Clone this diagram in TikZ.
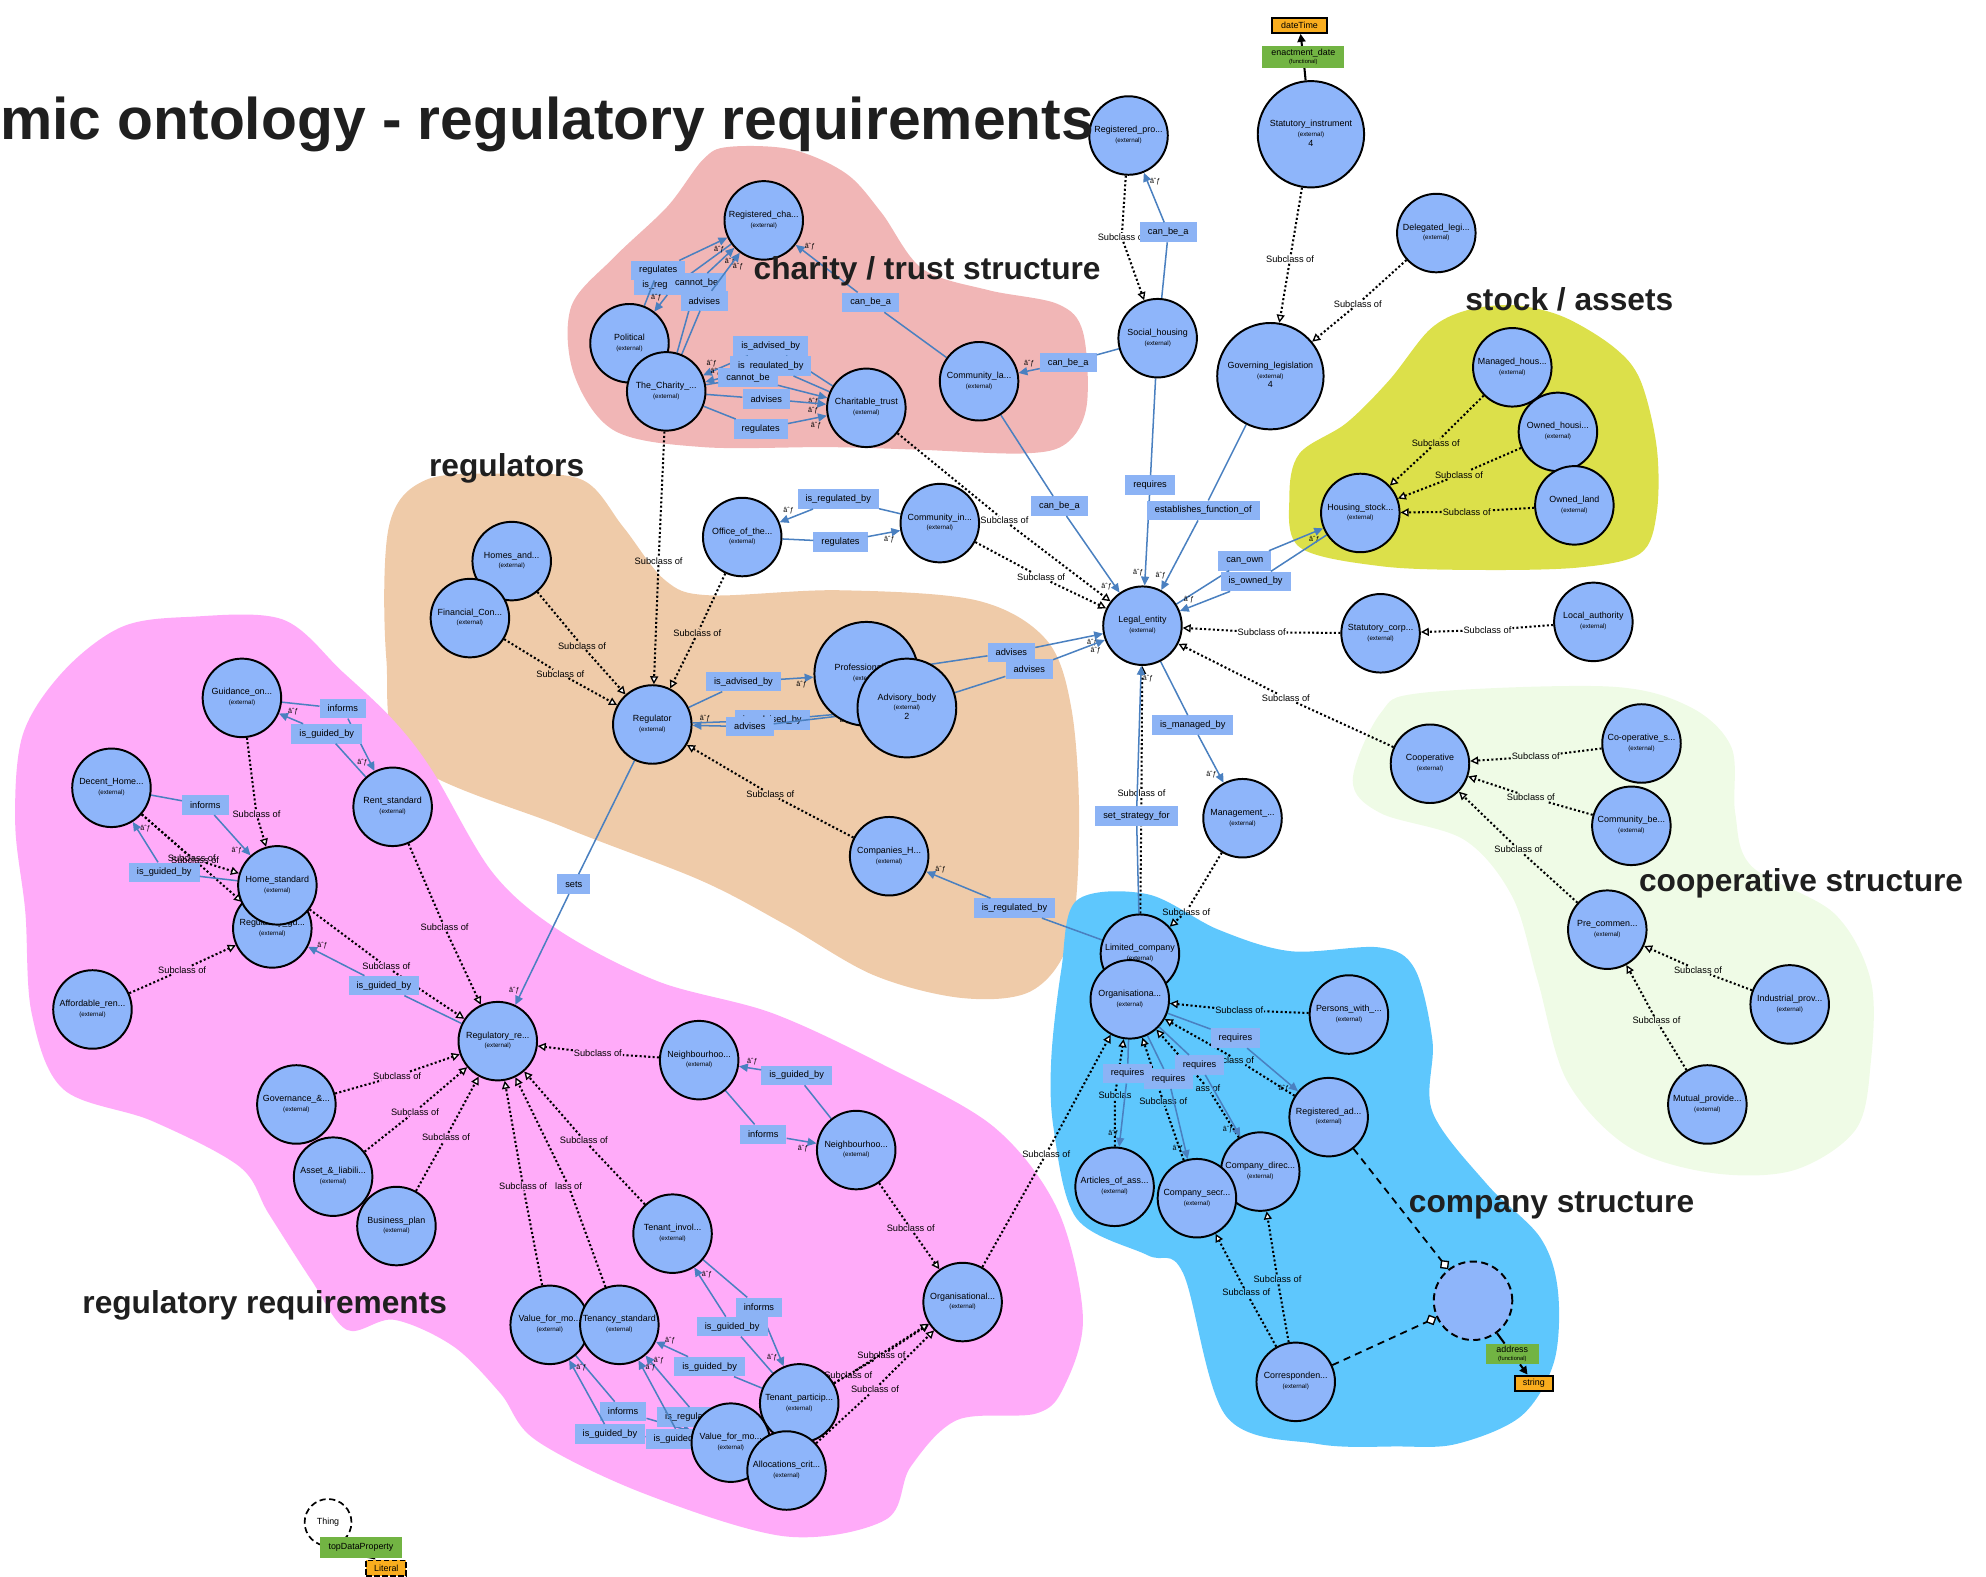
\documentclass[tikz,border=0pt]{standalone}
\usepackage{fontspec}
\setmainfont{Liberation Sans}
\usetikzlibrary{calc,arrows.meta}
\definecolor{clsfill}{HTML}{8EB5FA}
\definecolor{propfill}{HTML}{8CB3F5}
\definecolor{edgeblue}{HTML}{4A80C0}
\definecolor{dtgreen}{HTML}{72B443}
\definecolor{litorange}{HTML}{F9AD1E}
\definecolor{charitybg}{HTML}{F1B6B6}
\definecolor{regulatorbg}{HTML}{EFCBA9}
\definecolor{requirebg}{HTML}{FFABF9}
\definecolor{stockbg}{HTML}{DCE04A}
\definecolor{coopbg}{HTML}{EFFBE6}
\definecolor{companybg}{HTML}{5EC7FD}
\pgfdeclarelayer{back}
\pgfdeclarelayer{front}
\pgfdeclarelayer{top}
\pgfsetlayers{back,main,front,top}
\newcommand{\extfont}{\fontsize{7}{8}\selectfont}
\newcommand{\cn}[1]{\makebox[0pt]{\begin{tabular}{@{}c@{}}#1\\\extfont(external)\end{tabular}}}
\newcommand{\cnn}[2]{\makebox[0pt]{\begin{tabular}{@{}c@{}}#1\\\extfont(external)\\#2\end{tabular}}}
\tikzset{
  cls/.style={circle, draw=black, line width=2.2pt, fill=clsfill, minimum size=3.1cm, inner sep=0pt, font=\fontsize{10}{11}\selectfont},
  bigcls/.style={cls, minimum size=4.2cm},
  anoncls/.style={cls, dash pattern=on 8pt off 5pt},
  thingcls/.style={circle, draw=black, line width=1.9pt, dash pattern=on 7pt off 4pt, minimum size=1.85cm, inner sep=0pt, font=\fontsize{10}{11}\selectfont},
  prop/.style={fill=propfill, inner xsep=9pt, inner ysep=0pt, minimum height=22pt, font=\fontsize{10.4}{11}\selectfont},
  sublab/.style={inner sep=1pt, font=\fontsize{10.4}{11}\selectfont},
  exlab/.style={inner sep=0pt, font=\fontsize{8}{9}\selectfont},
  dprop/.style={fill=dtgreen, inner sep=0pt, minimum width=92pt, minimum height=24pt, align=center, font=\fontsize{10}{9}\selectfont},
  dtype/.style={fill=litorange, draw=black, line width=2.2pt, inner sep=0pt, minimum height=17pt, font=\fontsize{10}{11}\selectfont},
  subline/.style={draw=black, line width=2.3pt, dash pattern=on 2.3pt off 2.6pt, -{Triangle[length=9pt,width=9pt,fill=white,line width=1.5pt]}},
  propline/.style={draw=edgeblue, line width=1.7pt, -{Triangle[length=10pt,width=9pt]}},
  dtline/.style={draw=black, line width=2.3pt, -{Triangle[length=9pt,width=9pt]}},
  unionline/.style={draw=black, line width=2pt, dash pattern=on 8pt off 6pt, -{Diamond[length=13pt,width=13pt,fill=white,line width=1.5pt]}},
  grouplab/.style={font=\fontsize{35.6}{38}\selectfont\bfseries, text=black!88, inner sep=0pt, anchor=base},
  titlelab/.style={font=\fontsize{66}{70}\selectfont\bfseries, text=black!88, inner sep=0pt, anchor=base west},
}

\begin{document}
\begin{tikzpicture}[x=0.05cm, y=-0.05cm]
\useasboundingbox (0,0) rectangle (1568,1245);

% group areas
\begin{pgfonlayer}{back}
\fill[charitybg] plot[smooth cycle, tension=0.55] coordinates {(555,126) (575,116) (625,118) (668,137) (696,168) (728,212) (780,229) (835,240) (855,262) (858,320) (842,350) (808,358) (724,355) (654,353) (555,353) (485,340) (453,295) (451,242) (485,203) (527,163)};
\fill[regulatorbg] plot[smooth cycle, tension=0.55] coordinates {(307,416) (336,379) (400,374) (460,379) (492,416) (525,458) (560,470) (662,466) (771,474) (826,505) (846,560) (852,650) (845,740) (815,782) (760,788) (690,770) (620,730) (553,695) (445,653) (322,600) (305,520)};
\fill[requirebg] plot[smooth cycle, tension=0.55] coordinates {(18,580) (50,530) (96,495) (150,487) (223,489) (270,530) (310,568) (341,608) (389,689) (442,735) (520,775) (610,800) (700,842) (785,890) (835,955) (855,1040) (840,1095) (818,1116) (756,1121) (719,1158) (699,1200) (620,1213) (508,1179) (423,1137) (395,1100) (358,1063) (311,1042) (274,1050) (246,1011) (212,958) (189,921) (120,885) (50,860) (25,800) (20,720) (12,650)};
\fill[stockbg] plot[smooth cycle, tension=0.55] coordinates {(1158,245) (1195,241) (1234,250) (1274,274) (1295,300) (1308,353) (1308,405) (1295,437) (1247,448) (1168,450) (1090,447) (1026,432) (1018,392) (1026,358) (1063,334) (1097,300) (1129,260)};
\fill[coopbg] plot[smooth cycle, tension=0.55] coordinates {(1068,616) (1090,563) (1123,547) (1270,542) (1334,558) (1367,590) (1370,642) (1383,684) (1448,721) (1477,774) (1477,839) (1465,892) (1416,924) (1351,926) (1285,905) (1237,853) (1214,774) (1194,708) (1156,663) (1090,642)};
\fill[companybg] plot[smooth cycle, tension=0.55] coordinates {(850,711) (906,706) (962,734) (1019,751) (1089,748) (1117,765) (1131,822) (1131,878) (1174,935) (1216,977) (1230,1019) (1227,1075) (1201,1118) (1150,1140) (1103,1142) (1040,1140) (968,1118) (934,1005) (906,991) (850,962) (832,892) (830,836) (838,765)};
\end{pgfonlayer}

% classes
\begin{pgfonlayer}{front}
\node[cls] (regpro) at (891,107) {\cn{Registered\_pro...}};
\node[bigcls] (statinst) at (1035,106) {\cnn{Statutory\_instrument}{4}};
\node[cls] (delegl) at (1134,184) {\cn{Delegated\_legi...}};
\node[cls] (socialh) at (914,267) {\cn{Social\_housing}};
\node[bigcls] (govleg) at (1003,297) {\cnn{Governing\_legislation}{4}};
\node[cls] (commla) at (773,301) {\cn{Community\_la...}};
\node[cls] (regcha) at (603,174) {\cn{Registered\_cha...}};
\node[cls] (political) at (497,271) {\cn{Political}};
\node[cls] (thecharity) at (526,309) {\cn{The\_Charity\_...}};
\node[cls] (chartrust) at (684,322) {\cn{Charitable\_trust}};
\node[cls] (managedh) at (1194,290) {\cn{Managed\_hous...}};
\node[cls] (ownedh) at (1230,341) {\cn{Owned\_housi...}};
\node[cls] (ownedl) at (1243,399) {\cn{Owned\_land}};
\node[cls] (housing) at (1074,405) {\cn{Housing\_stock...}};
\node[cls] (office) at (586,424) {\cn{Office\_of\_the...}};
\node[cls] (commin) at (742,413) {\cn{Community\_in...}};
\node[cls] (homes) at (404,443) {\cn{Homes\_and...}};
\node[cls] (financial) at (371,488) {\cn{Financial\_Con...}};
\node[cls] (regulator) at (515,572) {\cn{Regulator}};
\node[cls, minimum size=4.1cm] (profi) at (684,532) {\cn{Professional\_i...}};
\node[cls, minimum size=3.9cm] (advisory) at (716,559) {\cnn{Advisory\_body}{2}};
\node[cls] (companiesh) at (702,676) {\cn{Companies\_H...}};
\node[cls] (legal) at (902,494) {\cn{Legal\_entity}};
\node[cls] (statcorp) at (1090,500) {\cn{Statutory\_corp...}};
\node[cls] (localauth) at (1258,491) {\cn{Local\_authority}};
\node[cls] (coop) at (1129,603) {\cn{Cooperative}};
\node[cls] (coops) at (1296,587) {\cn{Co-operative\_s...}};
\node[cls] (commbe) at (1288,652) {\cn{Community\_be...}};
\node[cls] (precomm) at (1269,734) {\cn{Pre\_commen...}};
\node[cls] (industrial) at (1413,793) {\cn{Industrial\_prov...}};
\node[cls] (mutual) at (1348,872) {\cn{Mutual\_provide...}};
\node[cls] (management) at (981,646) {\cn{Management\_...}};
\node[cls] (limited) at (900,753) {\cn{Limited\_company}};
\node[cls] (organisation) at (892,789) {\cn{Organisationa...}};
\node[cls] (persons) at (1065,801) {\cn{Persons\_with\_...}};
\node[cls] (regad) at (1049,882) {\cn{Registered\_ad...}};
\node[cls] (articles) at (880,937) {\cn{Articles\_of\_ass...}};
\node[cls] (compdir) at (995,925) {\cn{Company\_direc...}};
\node[cls] (compsec) at (945,946) {\cn{Company\_secr...}};
\node[anoncls] (anon) at (1163,1027) {};
\node[cls] (corresp) at (1023,1091) {\cn{Corresponden...}};
\node[cls] (guidance) at (191,551) {\cn{Guidance\_on...}};
\node[cls] (decent) at (88,622) {\cn{Decent\_Home...}};
\node[cls] (rentstd) at (310,637) {\cn{Rent\_standard}};
\node[cls] (regguide) at (215,733) {\cn{Regulatory\_gu...}};
\node[cls] (homestd) at (219,699) {\cn{Home\_standard}};
\node[cls] (affordable) at (73,797) {\cn{Affordable\_ren...}};
\node[cls] (regreq) at (393,822) {\cn{Regulatory\_re...}};
\node[cls] (neighA) at (552,837) {\cn{Neighbourhoo...}};
\node[cls] (neighB) at (676,908) {\cn{Neighbourhoo...}};
\node[cls] (governance) at (234,872) {\cn{Governance\_\&...}};
\node[cls] (assets) at (263,929) {\cn{Asset\_\&\_liabili...}};
\node[cls] (business) at (313,968) {\cn{Business\_plan}};
\node[cls] (tenantinv) at (531,974) {\cn{Tenant\_invol...}};
\node[cls] (orgstd) at (760,1028) {\cn{Organisational...}};
\node[cls] (valueA) at (434,1046) {\cn{Value\_for\_mo...}};
\node[cls] (tenancy) at (489,1046) {\cn{Tenancy\_standard}};
\node[cls] (valueB) at (577,1139) {\cn{Value\_for\_mo...}};
\node[cls] (tenantpart) at (631,1108) {\cn{Tenant\_particip...}};
\node[cls] (allocation) at (621,1161) {\cn{Allocations\_crit...}};
\node[thingcls] (thing) at (259,1202) {Thing};
% datatypes
\node[dtype, minimum width=61pt] (datetime) at (1026,20) {dateTime};
\node[dprop] (enact) at (1029,45) {enactment\_date\\{\fontsize{6.5}{7}\selectfont(functional)}};
\node[dprop, minimum width=59pt, minimum height=23pt] (address) at (1194,1069) {address\\{\fontsize{6.5}{7}\selectfont(functional)}};
\node[dtype, minimum width=42pt] (string) at (1211,1092) {string};
\node[dprop] (topdp) at (285,1222) {topDataProperty};
\node[dtype, minimum width=45pt, dash pattern=on 6pt off 3pt] (literal) at (305,1238) {Literal};
\end{pgfonlayer}

% subclass links
\foreach \a/\x/\y/\b/\t [count=\i] in {
  regpro/885.6/187.4/socialh/Subclass of, statinst/1018.5/204.7/govleg/Subclass of,
  delegl/1072/240/govleg/Subclass of, thecharity/520/442.7/regulator/Subclass of,
  chartrust/793/411/legal/Subclass of, commin/822/455.8/legal/Subclass of,
  homes/459.5/509.8/regulator/Subclass of, financial/442.4/531.9/regulator/Subclass of,
  office/550.5/500.3/regulator/Subclass of, companiesh/608.2/627/regulator/Subclass of,
  managedh/1133.5/349.8/housing/Subclass of, ownedh/1151.9/375/housing/Subclass of,
  ownedl/1158/404/housing/Subclass of, statcorp/996.1/499.2/legal/Subclass of,
  localauth/1174.4/497.4/statcorp/Subclass of, coop/1015.2/551/legal/Subclass of,
  coops/1212.5/597.4/coop/Subclass of, commbe/1208.6/629.5/coop/Subclass of,
  precomm/1198.8/670.5/coop/Subclass of, industrial/1340.6/765.8/precomm/Subclass of,
  mutual/1307.8/805.8/precomm/Subclass of, limited/901.2/626.3/legal/Subclass of,
  management/936.6/719.8/limited/Subclass of, persons/978.4/797.7/organisation/Subclass of,
  regad/977.6/837.2/organisation/class of, compdir/953.7/859.2/organisation/ass of,
  compsec/918.4/869.6/organisation/Subclass of, articles/880.3/864.8/organisation/Subclas,
  corresp/984/1020.5/compsec/Subclass of, corresp/1008.6/1009.7/compdir/Subclass of,
  orgstd/826/911/organisation/Subclass of, guidance/202.5/642.7/homestd/Subclass of,
  decent/151.4/677.7/homestd/Subclass of, decent/154/679.5/regguide/Subclass of,
  affordable/143.8/765.8/regguide/Subclass of, homestd/305/763.2/regreq/Subclass of,
  rentstd/351/732.2/regreq/Subclass of, neighA/472/831.6/regreq/Subclass of,
  governance/313.5/849.5/regreq/Subclass of, assets/327.6/877.7/regreq/Subclass of,
  business/352.1/897.9/regreq/Subclass of, tenantinv/461/900/regreq/Subclass of,
  valueA/413/936.4/regreq/Subclass of, tenancy/448.9/936.4/regreq/lass of,
  neighB/719/970/orgstd/Subclass of, tenantpart/695.9/1070.3/orgstd/Subclass of,
  valueB/669.7/1085.6/orgstd/Subclass of, allocation/690.8/1096.7/orgstd/Subclass of} {
  \node[sublab] (s\i) at (\x,\y) {\t};
  \draw[subline] (\a) -- (s\i) -- (\b);
}

% object properties
\foreach \a/\x/\y/\b/\t [count=\i] in {
  regcha/533/225/political/is\_regulated\_by, political/519.7/213.5/regcha/regulates,
  thecharity/550/223.5/regcha/cannot\_be, thecharity/556/237.5/regcha/advises,
  chartrust/608.5/273/thecharity/is\_advised\_by, chartrust/608.5/289/thecharity/is\_regulated\_by,
  thecharity/590.6/298.2/chartrust/cannot\_be, thecharity/605/315/chartrust/advises,
  thecharity/600.6/338.7/chartrust/regulates, commla/687.4/238.7/regcha/can\_be\_a,
  socialh/843.4/286.3/commla/can\_be\_a, socialh/922.4/183.4/regpro/can\_be\_a,
  commla/836.5/399.5/legal/can\_be\_a, socialh/908/383/legal/requires,
  govleg/950/403/legal/establishes\_function\_of, legal/982.8/442.7/housing/can\_own,
  housing/991.3/459/legal/is\_owned\_by, commin/661.8/394/office/is\_regulated\_by,
  office/663.6/427.7/commin/regulates, regulator/587/538.2/profi/is\_advised\_by,
  regulator/609.7/568.5/advisory/is\_advised\_by, advisory/592/573.7/regulator/advises,
  profi/798.5/515/legal/advises, advisory/812.6/528/legal/advises,
  regulator/453/698/regreq/sets, legal/941.7/572.4/management/is\_managed\_by,
  limited/897.3/644.3/legal/set\_strategy\_for, limited/801/717/companiesh/is\_regulated\_by,
  organisation/975.4/819.7/regad/requires, organisation/947.1/840.8/compdir/requires,
  organisation/922.6/851.8/compsec/requires, organisation/890.2/847.6/articles/requires,
  guidance/270.7/559.5/rentstd/informs, rentstd/258/579.3/guidance/is\_guided\_by,
  decent/162.1/635.6/homestd/informs, homestd/129.7/688.7/decent/is\_guided\_by,
  regreq/303.1/778.2/regguide/is\_guided\_by, neighB/629/849/neighA/is\_guided\_by,
  neighA/602.6/895.6/neighB/informs, tenantinv/599.2/1032.2/tenantpart/informs,
  tenantpart/578.1/1047.4/tenantinv/is\_guided\_by, tenantpart/560.3/1079/tenancy/is\_guided\_by,
  valueA/492/1114.5/valueB/informs, valueB/481.6/1132.2/valueA/is\_guided\_by,
  valueB/551/1118.8/tenancy/is\_regulated\_by, valueB/537.6/1135.9/tenancy/is\_guided\_by} {
  \node[prop] (p\i) at (\x,\y) {\t};
  \draw[propline] (\a) -- (p\i) -- (\b);
  \path (p\i) -- (\b) coordinate[pos=1] (t\i);
  \node[exlab] (x\i) at ($(t\i)!14pt!(p\i)!8pt!90:(p\i)$) {âˆƒ};
}

% datatype and union links
\draw[dtline] (statinst) -- (enact) -- (datetime);
\draw[dtline] (anon) -- (address) -- (string);
\draw[dtline] (thing) -- (topdp) -- (literal);
\draw[unionline] (regad) -- (anon);
\draw[unionline] (corresp) -- (anon);

% titles
\begin{pgfonlayer}{top}
\node[titlelab] (title) at (0,110.5) {mic ontology - regulatory requirements};
\node[grouplab] (gcharity) at (732,221) {charity / trust structure};
\node[grouplab] (gregulators) at (400,376) {regulators};
\node[grouplab] (gstock) at (1239,245) {stock / assets};
\node[grouplab] (gcoop) at (1422,704) {cooperative structure};
\node[grouplab] (gcompany) at (1225,957) {company structure};
\node[grouplab] (grequire) at (209,1037) {regulatory requirements};
\end{pgfonlayer}
\end{tikzpicture}
\end{document}
